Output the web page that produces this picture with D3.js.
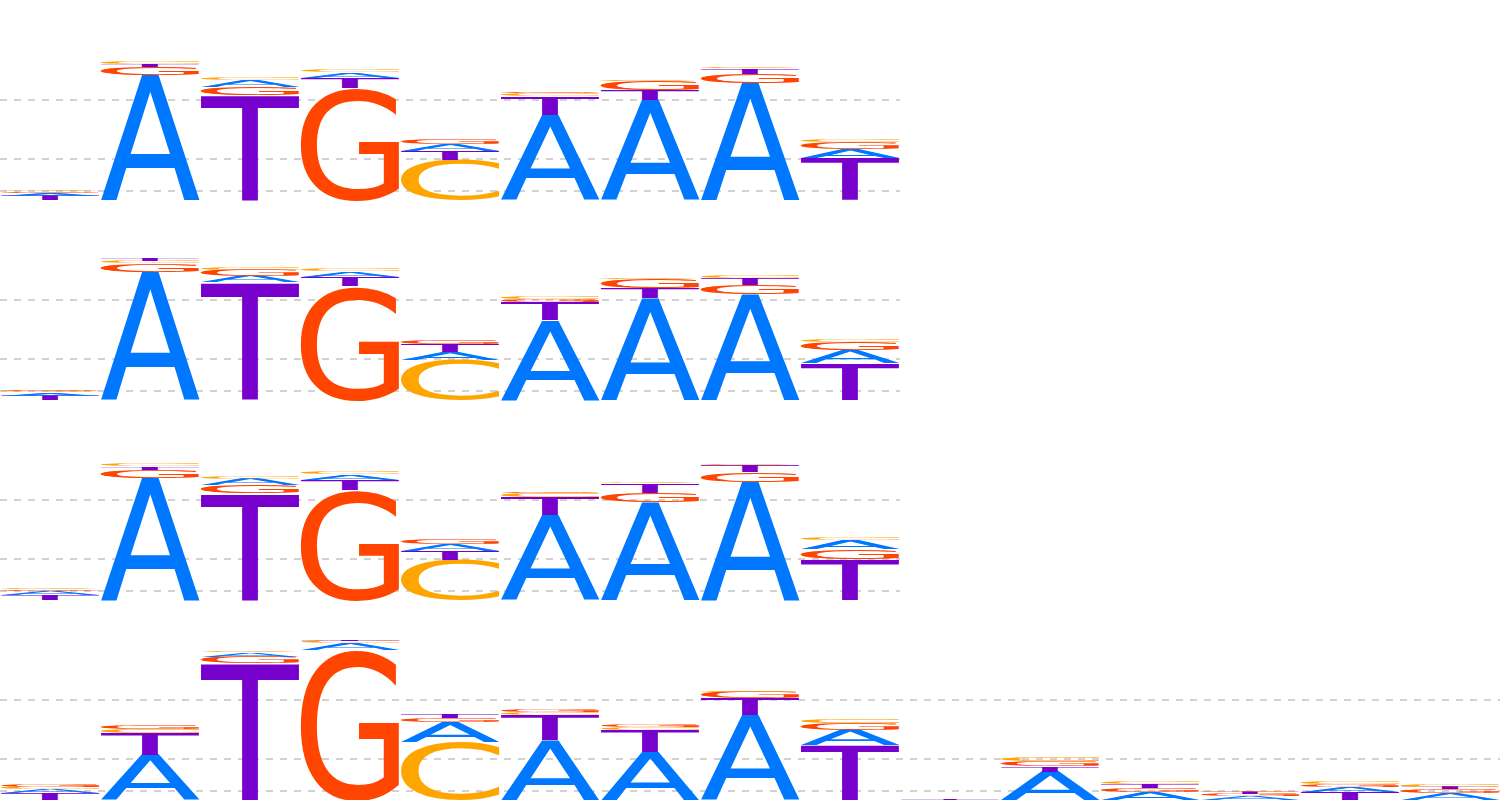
<!DOCTYPE html>
<html>
<head>
<meta charset="utf-8">
<script src="https://cdn.jsdelivr.net/npm/d3@7"></script>
<style>
  body { margin: 0; background: #fff; }
  svg { display: block; }
</style>
</head>
<body>
<script>
// letter heights (bits) per position, one array per motif row
var bases = ['A', 'C', 'G', 'T'];

var motif1 = [
  {A: 0.025, C: 0.01, G: 0.015, T: 0.045},
  {A: 1.25, C: 0.02, G: 0.08, T: 0.03},
  {A: 0.07, C: 0.025, G: 0.08, T: 1.05},
  {A: 0.055, C: 0.023, G: 1.12, T: 0.10},
  {A: 0.065, C: 0.40, G: 0.05, T: 0.09},
  {A: 0.85, C: 0.025, G: 0.015, T: 0.19},
  {A: 1.00, C: 0.005, G: 0.09, T: 0.10},
  {A: 1.17, C: 0.013, G: 0.095, T: 0.055},
  {A: 0.09, C: 0.03, G: 0.07, T: 0.42}
];

var motif2 = [
  {A: 0.03, C: 0.015, G: 0.015, T: 0.045},
  {A: 1.28, C: 0.03, G: 0.085, T: 0.02},
  {A: 0.06, C: 0.03, G: 0.06, T: 1.18},
  {A: 0.055, C: 0.02, G: 1.14, T: 0.095},
  {A: 0.08, C: 0.40, G: 0.043, T: 0.077},
  {A: 0.80, C: 0.02, G: 0.03, T: 0.18},
  {A: 1.02, C: 0.005, G: 0.087, T: 0.10},
  {A: 1.06, C: 0.023, G: 0.09, T: 0.07},
  {A: 0.13, C: 0.023, G: 0.08, T: 0.37}
];

var motif3 = [
  {A: 0.04, C: 0.012, G: 0.018, T: 0.05},
  {A: 1.22, C: 0.025, G: 0.085, T: 0.03},
  {A: 0.057, C: 0.025, G: 0.08, T: 1.07},
  {A: 0.053, C: 0.02, G: 1.10, T: 0.105},
  {A: 0.067, C: 0.40, G: 0.05, T: 0.09},
  {A: 0.85, C: 0.04, G: 0.01, T: 0.183},
  {A: 0.98, C: 0.015, G: 0.095, T: 0.09},
  {A: 1.18, C: 0.005, G: 0.10, T: 0.065},
  {A: 0.093, C: 0.027, G: 0.097, T: 0.41}
];

var motif4 = [
  {A: 0.04, C: 0.02, G: 0.02, T: 0.067},
  {A: 0.45, C: 0.045, G: 0.04, T: 0.217},
  {A: 0.04, C: 0.017, G: 0.065, T: 1.37},
  {A: 0.065, C: 0.023, G: 1.50, T: 0.01},
  {A: 0.20, C: 0.58, G: 0.04, T: 0.033},
  {A: 0.60, C: 0.025, G: 0.025, T: 0.25},
  {A: 0.48, C: 0.03, G: 0.02, T: 0.217},
  {A: 0.85, C: 0.005, G: 0.063, T: 0.167},
  {A: 0.15, C: 0.033, G: 0.073, T: 0.55},
  {A: 0.003, C: 0.002, G: 0.002, T: 0.006},
  {A: 0.28, C: 0.035, G: 0.055, T: 0.057},
  {A: 0.077, C: 0.023, G: 0.045, T: 0.033},
  {A: 0.04, C: 0.015, G: 0.02, T: 0.02},
  {A: 0.05, C: 0.02, G: 0.03, T: 0.083},
  {A: 0.067, C: 0.02, G: 0.04, T: 0.023}
];

var motifs = [motif1, motif2, motif3, motif4];
var gridValues = [1, 0.41, 0.09];

var colors = {A: '#0077ff', C: '#ffa500', G: '#ff4500', T: '#7700cc'};

var width = 1500, height = 800;
var rowHeight = 200, colWidth = 100;
var fontFamily = 'DejaVu Sans';
var fontSize = 100;

var svg = d3.select('body').append('svg')
  .attr('width', width)
  .attr('height', height);

// measure ink box of each glyph so it can be stretched into a rect
var ctx = document.createElement('canvas').getContext('2d');
ctx.font = fontSize + 'px "' + fontFamily + '"';
var glyph = {};
bases.forEach(function(b){
  var m = ctx.measureText(b);
  glyph[b] = {
    left: m.actualBoundingBoxLeft,
    w: m.actualBoundingBoxLeft + m.actualBoundingBoxRight,
    ascent: m.actualBoundingBoxAscent,
    h: m.actualBoundingBoxAscent + m.actualBoundingBoxDescent
  };
});

// 100px per bit
var y = d3.scaleLinear().domain([0, 2]).range([rowHeight, 0]);

motifs.forEach(function(motif, r){
  var x = d3.scaleBand()
    .domain(d3.range(motif.length))
    .range([0, motif.length * colWidth])
    .padding(0);

  var row = svg.append('g')
    .attr('transform', 'translate(0,' + (r * rowHeight) + ')');

  row.selectAll('.grid')
    .data(gridValues)
    .enter().append('line')
    .attr('class', 'grid')
    .attr('x1', 0)
    .attr('x2', x.range()[1])
    .attr('y1', function(d){ return y(d); })
    .attr('y2', function(d){ return y(d); })
    .style('stroke', '#c4c4c4')
    .style('stroke-width', 1.3)
    .style('stroke-dasharray', '7,7');

  motif.forEach(function(col, i){
    // biggest letter at the bottom
    var stack = bases.map(function(b){ return {base: b, h: col[b]}; })
      .sort(function(a, b){ return b.h - a.h; });
    var base = 0;
    stack.forEach(function(s){
      var y0 = y(base + s.h);
      var y1 = y(base);
      base += s.h;
      var hpx = y1 - y0;
      if (hpx <= 0) return;
      var g = glyph[s.base];
      var sx = x.bandwidth() / g.w;
      var sy = hpx / g.h;
      row.append('text')
        .attr('transform', 'translate(' + x(i) + ',' + y0 + ') scale(' + sx + ',' + sy + ') translate(' + g.left + ',' + g.ascent + ')')
        .style('font-family', fontFamily)
        .style('font-size', fontSize + 'px')
        .style('fill', colors[s.base])
        .text(s.base);
    });
  });
});
</script>
</body>
</html>
